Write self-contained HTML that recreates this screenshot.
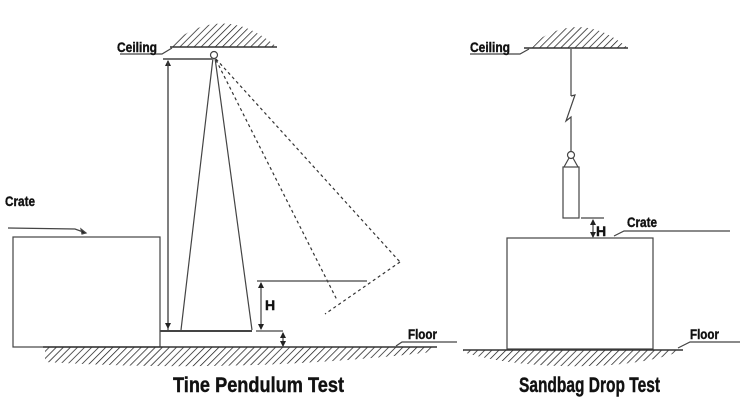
<!DOCTYPE html>
<html><head><meta charset="utf-8"><style>
html,body{margin:0;padding:0;background:#fff;}
svg{display:block;}
text{font-family:"Liberation Sans",sans-serif;font-weight:bold;fill:#111;stroke:#111;stroke-width:0.4;}
</style></head><body>
<svg width="750" height="416" viewBox="0 0 750 416" xmlns="http://www.w3.org/2000/svg">
<defs>
<pattern id="h" width="5" height="5" patternUnits="userSpaceOnUse" patternTransform="rotate(45)">
<line x1="0" y1="0" x2="0" y2="5" stroke="#111" stroke-width="1.4"/>
</pattern>
<marker id="a" markerWidth="6" markerHeight="6" refX="5" refY="3" orient="auto" markerUnits="userSpaceOnUse">
<path d="M0,0 L6,3 L0,6z" fill="#222"/></marker>
</defs>
<g stroke="#444" stroke-width="1.2" fill="none">
<path d="M167,47 Q222,0 277,47 Z" fill="url(#h)" stroke="none"/>
<line x1="170" y1="47" x2="277" y2="47" stroke="#333" stroke-width="1.5"/>
<circle cx="214" cy="55" r="3.5" fill="#fff"/>
<line x1="163" y1="59" x2="212" y2="59" stroke-width="1.5"/>
<line x1="168" y1="330" x2="168" y2="61" marker-end="url(#a)"/>
<line x1="168" y1="62" x2="168" y2="328" marker-end="url(#a)"/>
<path d="M213,58 L181,330 M215,58 L252,330"/>
<line x1="160" y1="331" x2="252" y2="331" stroke-width="2"/>
<g stroke-dasharray="3,3" stroke="#333">
<line x1="216" y1="59" x2="400" y2="262"/>
<line x1="216" y1="60" x2="337" y2="300"/>
<line x1="400" y1="262" x2="325" y2="314"/>
</g>
<line x1="257" y1="281" x2="367" y2="281"/>
<line x1="261" y1="300" x2="261" y2="283" marker-end="url(#a)"/>
<line x1="261" y1="300" x2="261" y2="329" marker-end="url(#a)"/>
<line x1="256" y1="331" x2="283" y2="331"/>
<line x1="283" y1="339" x2="283" y2="333" marker-end="url(#a)"/>
<line x1="283" y1="339" x2="283" y2="346" marker-end="url(#a)"/>
<rect x="13" y="237" width="147" height="110"/>
<polyline points="8,228 75,229 86,233"/>
<path d="M86,233 l-5,-4 l1,5z" fill="#222"/>
<path d="M45,347 L437,347 L432,352 Q240,374 45,362 Z" fill="url(#h)" stroke="none"/>
<line x1="43" y1="347" x2="437" y2="347" stroke="#333" stroke-width="1.6"/>
<polyline points="457,342 402,342 396,346"/>
<path d="M527,48 Q578,6 628,48 Z" fill="url(#h)" stroke="none"/>
<line x1="524" y1="48" x2="628" y2="48" stroke="#333" stroke-width="1.5"/>
<polyline points="470,54 520,54 529,49"/>
<polyline points="120,54 162,54 172,48"/>
<line x1="571" y1="49" x2="571" y2="96"/>
<path d="M571,96 L575,95 L566,121 L571,117 L571,151"/>
<circle cx="571" cy="155" r="3.5" fill="#fff"/>
<path d="M569,158 L564,167 M573,158 L578,167"/>
<rect x="563" y="167" width="16" height="51"/>
<line x1="581" y1="218" x2="604" y2="218"/>
<line x1="593" y1="228" x2="593" y2="220" marker-end="url(#a)"/>
<line x1="593" y1="228" x2="593" y2="237" marker-end="url(#a)"/>
<polyline points="730,231 624,231 614,236"/>
<rect x="507" y="238" width="146" height="111"/>
<path d="M463,350 L683,350 Q640,368 560,366 Q500,364 463,352 Z" fill="url(#h)" stroke="none"/>
<line x1="463" y1="350" x2="683" y2="350" stroke="#333" stroke-width="1.6"/>
<polyline points="740,342 690,342 678,348"/>
</g>
<text x="117" y="52" font-size="14" textLength="40" lengthAdjust="spacingAndGlyphs">Ceiling</text>
<text x="470" y="52" font-size="14" textLength="40" lengthAdjust="spacingAndGlyphs">Ceiling</text>
<text x="5" y="206" font-size="14" textLength="30" lengthAdjust="spacingAndGlyphs">Crate</text>
<text x="627" y="227" font-size="14" textLength="30" lengthAdjust="spacingAndGlyphs">Crate</text>
<text x="265" y="310" font-size="14">H</text>
<text x="596" y="236" font-size="14">H</text>
<text x="408" y="339" font-size="14" textLength="29" lengthAdjust="spacingAndGlyphs">Floor</text>
<text x="690" y="339" font-size="14" textLength="29" lengthAdjust="spacingAndGlyphs">Floor</text>
<text x="173" y="392" font-size="21" textLength="171" lengthAdjust="spacingAndGlyphs">Tine Pendulum Test</text>
<text x="519" y="392" font-size="21" textLength="141" lengthAdjust="spacingAndGlyphs">Sandbag Drop Test</text>
</svg>
</body></html>
